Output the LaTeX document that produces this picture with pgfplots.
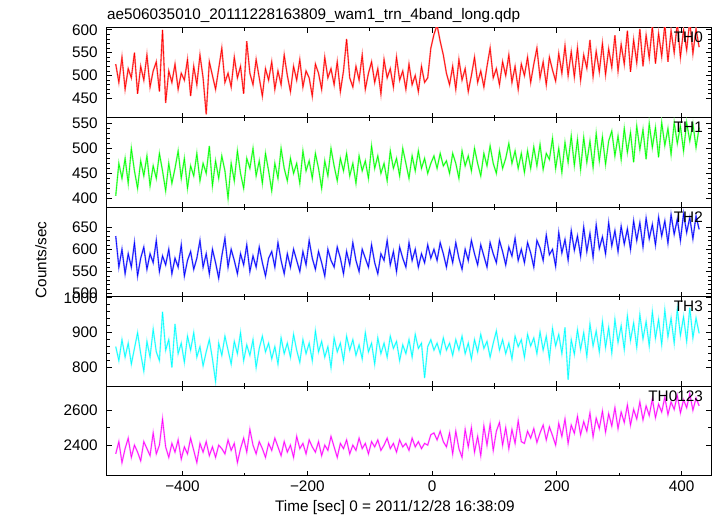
\documentclass[border=0pt]{standalone}
\usepackage{pgfplots}
\pgfplotsset{compat=1.18}
\usepackage{pgfplotstable}
\usepgfplotslibrary{groupplots}
\usepackage{fontspec}
\setmainfont{Liberation Sans}
\definecolor{qred}{RGB}{255,0,0}
\definecolor{qgreen}{RGB}{0,255,0}
\definecolor{qblue}{RGB}{0,0,255}
\definecolor{qcyan}{RGB}{0,255,255}
\definecolor{qmag}{RGB}{255,0,255}
\definecolor{lred}{RGB}{255,130,130}
\definecolor{lgreen}{RGB}{140,255,140}
\definecolor{lblue}{RGB}{130,130,255}
\definecolor{lcyan}{RGB}{150,255,255}
\definecolor{lmag}{RGB}{255,150,255}

\pgfplotstableread{
t a b c d e
-507 525 405 630 860 2350
-502 485 470 560 820 2420
-497 540 440 600 880 2300
-492 470 480 545 830 2380
-487 515 430 590 870 2440
-482 495 500 560 810 2330
-477 550 455 615 855 2400
-472 460 420 540 900 2360
-467 520 475 580 840 2310
-462 490 445 605 790 2420
-457 545 485 555 875 2380
-452 475 425 590 830 2340
-447 510 465 570 910 2470
-442 530 440 620 845 2350
-437 465 490 550 820 2400
-432 600 455 585 960 2550
-427 440 415 565 850 2390
-422 510 470 600 880 2330
-417 485 430 545 800 2410
-412 525 460 580 925 2360
-407 470 495 560 840 2430
-402 505 440 610 870 2320
-397 490 480 540 815 2390
-392 535 420 575 890 2350
-387 455 465 595 850 2440
-382 520 445 555 900 2370
-377 480 490 580 830 2300
-372 545 435 620 860 2410
-367 495 470 560 805 2360
-362 415 450 590 845 2420
-357 530 505 545 880 2340
-352 500 425 600 825 2390
-347 470 475 570 760 2330
-342 515 440 535 870 2400
-337 560 485 585 835 2380
-332 485 455 625 890 2350
-327 505 400 560 850 2430
-322 475 470 600 810 2370
-317 540 435 575 875 2410
-312 495 495 545 840 2300
-307 520 450 590 900 2380
-302 460 420 565 820 2440
-297 575 480 610 865 2360
-292 505 460 550 835 2490
-287 480 500 585 880 2400
-282 535 445 560 800 2350
-277 495 475 605 855 2420
-272 455 430 570 890 2380
-267 515 490 540 845 2330
-262 490 455 580 870 2410
-257 530 415 595 825 2370
-252 470 470 560 860 2440
-247 510 440 615 810 2390
-242 480 500 575 885 2340
-237 545 460 545 840 2420
-232 500 435 590 870 2360
-227 465 480 560 830 2400
-222 520 450 600 895 2330
-217 490 470 575 850 2450
-212 535 430 550 815 2380
-207 475 495 595 880 2410
-202 510 455 565 840 2350
-197 495 475 620 870 2430
-192 455 440 580 820 2390
-187 525 490 555 905 2360
-182 505 460 595 845 2420
-177 470 420 570 875 2340
-172 540 475 540 830 2400
-167 495 445 600 860 2370
-162 515 500 575 800 2450
-157 480 465 560 885 2390
-152 530 435 605 845 2330
-147 465 480 580 870 2410
-142 510 455 545 820 2380
-137 580 490 595 890 2430
-132 495 445 565 850 2350
-127 475 470 615 880 2400
-122 520 430 575 835 2370
-117 490 485 550 865 2440
-112 545 455 600 825 2380
-107 470 475 580 900 2410
-102 505 440 560 845 2350
-97 530 505 610 870 2420
-92 485 460 570 810 2390
-87 515 485 545 885 2430
-82 460 450 590 840 2370
-77 535 470 575 870 2400
-72 495 435 620 830 2440
-67 515 495 565 890 2380
-62 475 460 595 855 2410
-57 540 480 550 875 2360
-52 490 445 605 820 2430
-47 510 500 580 865 2390
-42 470 470 560 840 2410
-37 525 440 615 880 2370
-32 480 485 575 830 2440
-27 500 455 600 895 2390
-22 465 495 560 855 2420
-17 520 460 590 870 2380
-12 485 480 570 770 2410
-7 495 450 610 860 2400
-2 560 470 580 880 2460
3 590 485 600 850 2470
8 610 460 575 870 2430
13 575 490 615 840 2480
18 545 465 590 885 2420
23 505 475 560 850 2390
28 480 450 600 870 2470
33 520 490 570 835 2350
38 470 470 615 880 2480
43 535 440 580 850 2380
48 490 495 555 890 2330
53 515 465 600 840 2490
58 465 485 575 870 2390
63 500 455 620 825 2500
68 540 500 590 880 2360
73 485 470 565 845 2450
78 510 445 610 895 2340
83 475 490 585 855 2510
88 520 465 560 875 2400
93 560 505 615 830 2520
98 495 470 590 870 2370
103 515 450 570 905 2480
108 480 495 620 850 2530
113 530 460 595 880 2400
118 500 480 565 840 2500
123 545 510 605 870 2380
128 485 470 585 825 2490
133 520 495 625 890 2410
138 470 460 575 860 2540
143 525 490 600 880 2420
148 500 452 570 830 2410
153 540 495 615 895 2480
158 485 460 592 862 2440
163 525 503 560 885 2495
168 560 465 620 840 2415
173 495 508 603 902 2470
178 530 458 575 850 2515
183 480 490 632 890 2430
188 540 478 588 825 2505
193 512 520 600 912 2455
198 488 460 562 862 2400
203 548 500 638 895 2525
208 505 452 592 840 2450
213 565 512 622 915 2550
218 500 472 576 765 2410
223 552 525 642 880 2515
228 497 466 598 838 2468
233 560 518 630 908 2565
238 490 458 585 852 2460
243 545 522 650 900 2535
248 516 472 595 832 2480
253 578 515 636 925 2585
258 498 462 582 862 2448
263 553 530 655 905 2555
268 508 475 602 845 2495
273 570 523 628 932 2595
278 502 468 590 858 2475
283 558 515 660 915 2580
288 518 535 608 842 2510
293 588 485 642 938 2615
298 510 525 595 872 2495
303 568 478 652 920 2590
308 525 540 612 852 2530
313 598 492 646 948 2630
318 508 532 600 878 2515
323 578 472 664 928 2605
328 528 545 620 858 2550
333 602 498 660 952 2648
338 520 538 606 882 2545
343 588 478 670 932 2625
348 538 550 624 862 2570
353 608 502 656 960 2665
358 526 542 610 884 2558
363 592 482 672 938 2635
368 542 552 630 866 2590
373 612 506 664 965 2675
378 530 540 614 888 2575
383 598 488 678 942 2648
388 550 552 634 870 2605
393 615 510 668 968 2685
398 540 545 620 892 2585
403 600 495 680 946 2660
408 556 552 638 875 2615
413 620 515 672 972 2695
418 548 550 624 885 2600
423 602 502 675 942 2670
428 562 542 645 898 2625
}\lc

\newcommand{\panel}[5]{%
  \addplot[color=#5, line width=1.6pt, mark=none, forget plot]
    table[x=t, y=#1]{\lc};
  \addplot[color=#2, line width=0.6pt, mark=none] table[x=t, y=#1]{\lc};
  \node[anchor=north east, inner sep=0pt, xshift=-8pt, yshift=-4pt,
        font=\fontsize{15.3}{18}\selectfont] at (rel axis cs:1,1) {#4};
}

\begin{document}
\fontsize{15.3}{18}\selectfont
\begin{tikzpicture}
\begin{groupplot}[
  group style={group size=1 by 5, vertical sep=0pt, xticklabels at=edge bottom},
  width=604pt, height=89.6pt, scale only axis,
  xmin=-521, xmax=447,
  xtick={-400,-200,0,200,400},
  xticklabels={−400,−200,0,200,400},
  minor x tick num=1,
  minor y tick num=4,
  tick align=inside,
  major tick length=5pt, minor tick length=3pt,
  axis line style={line width=1pt},
  major tick style={black, line width=0.8pt},
  minor tick style={black, line width=0.8pt},
  ticklabel style={font=\fontsize{15.3}{18}\selectfont},
  yticklabel style={xshift=-4pt},
  /pgf/number format/assume math mode=true,
  /pgf/number format/1000 sep={},
  scaled y ticks=false,
]
\nextgroupplot[ymin=408, ymax=604, ytick={450,500,550,600}]
\panel{a}{qred}{22}{TH0}{lred}
\nextgroupplot[ymin=382, ymax=562, ytick={400,450,500,550}]
\panel{b}{qgreen}{21}{TH1}{lgreen}
\nextgroupplot[ymin=493, ymax=695, ytick={500,550,600,650}]
\panel{c}{qblue}{24}{TH2}{lblue}
\nextgroupplot[ymin=746, ymax=1003, ytick={800,900,1000}]
\panel{d}{qcyan}{29}{TH3}{lcyan}
\nextgroupplot[ymin=2223, ymax=2737, ytick={2400,2600}, minor y tick num=1]
\panel{e}{qmag}{49}{TH0123}{lmag}
\end{groupplot}
\coordinate (O) at ([shift={(-107pt,28pt)}]group c1r1.north west);
\path (O) rectangle ([shift={(717pt,-516pt)}]O);
\node[anchor=base west, inner sep=0pt] at ([shift={(107pt,-20pt)}]O)
  {ae506035010\_20111228163809\_wam1\_trn\_4band\_long.qdp};
\node[rotate=90, inner sep=0pt] at ([shift={(41pt,-260pt)}]O) {Counts/sec};
\node[anchor=base west, inner sep=0pt] at ([shift={(275pt,-511pt)}]O)
  {Time [sec] 0 = 2011/12/28 16:38:09};
\end{tikzpicture}
\end{document}
